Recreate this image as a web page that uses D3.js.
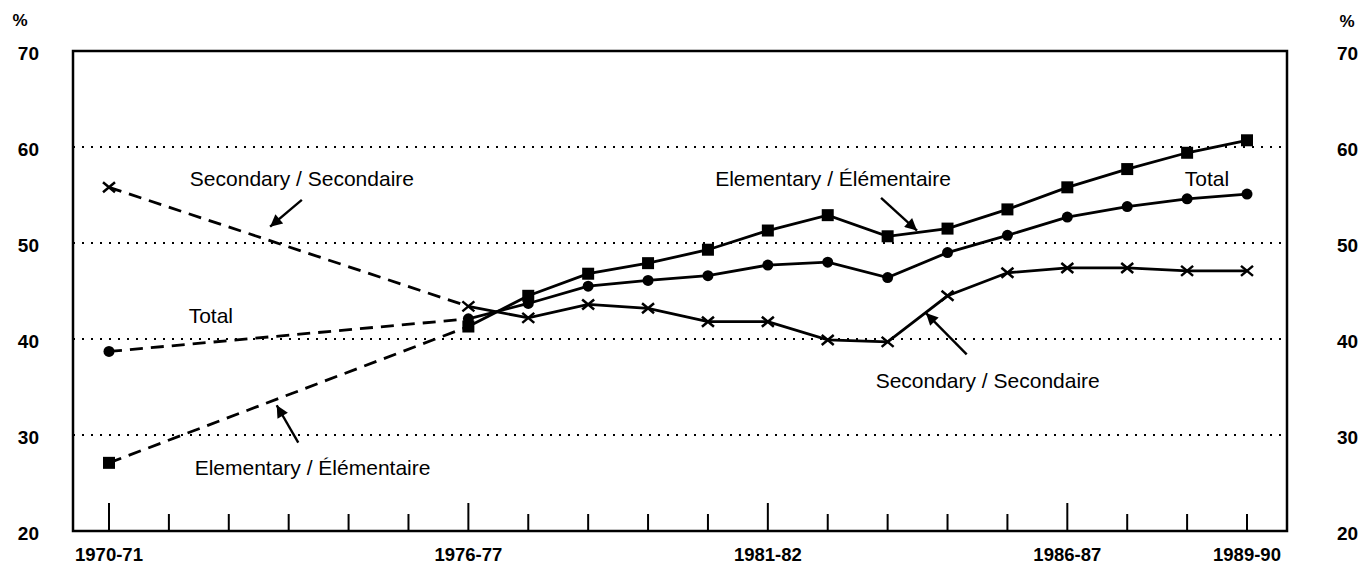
<!DOCTYPE html>
<html>
<head>
<meta charset="utf-8">
<script src="https://cdnjs.cloudflare.com/ajax/libs/d3/7.8.5/d3.min.js"></script>
<style>
  body { margin: 0; background: #fff; }
  svg { display: block; font-family: "Liberation Sans", Arial, sans-serif; }
</style>
</head>
<body>
<svg width="1364" height="569"></svg>
<script>
// school years (start year), first point is 1970-71 then yearly from 1976-77
var years = [1970, 1976, 1977, 1978, 1979, 1980, 1981, 1982, 1983, 1984, 1985, 1986, 1987, 1988, 1989];
var elementary = [27.1, 41.3, 44.5, 46.8, 47.9, 49.3, 51.3, 52.9, 50.7, 51.5, 53.5, 55.8, 57.7, 59.4, 60.7];
var total      = [38.7, 42.1, 43.7, 45.5, 46.1, 46.6, 47.7, 48.0, 46.4, 49.0, 50.8, 52.7, 53.8, 54.6, 55.1];
var secondary  = [55.8, 43.4, 42.2, 43.6, 43.2, 41.8, 41.8, 39.9, 39.7, 44.5, 46.9, 47.4, 47.4, 47.1, 47.1];

var tickYears = d3.range(1970, 1990);
var majorYears = [1970, 1976, 1981, 1986];
var tickLabels = {1970: "1970-71", 1976: "1976-77", 1981: "1981-82", 1986: "1986-87", 1989: "1989-90"};
var yTicks = [20, 30, 40, 50, 60, 70];
var gridValues = [30, 40, 50, 60];

// annotation text, anchored in year / value units
var notes = [
  {text: "Secondary / Secondaire",   yr: 1971.35, v: 55.9},
  {text: "Total",                    yr: 1971.33, v: 41.7},
  {text: "Elementary / Élémentaire", yr: 1971.43, v: 25.8},
  {text: "Elementary / Élémentaire", yr: 1980.12, v: 55.9},
  {text: "Total",                    yr: 1987.96, v: 55.9},
  {text: "Secondary / Secondaire",   yr: 1982.80, v: 34.9}
];
var arrows = [
  {yr0: 1973.22, v0: 54.5, yr1: 1972.69, v1: 51.7},
  {yr0: 1973.16, v0: 29.2, yr1: 1972.80, v1: 33.1},
  {yr0: 1982.89, v0: 54.7, yr1: 1983.49, v1: 51.3},
  {yr0: 1984.32, v0: 38.4, yr1: 1983.64, v1: 42.7}
];

var svg = d3.select("svg");
var plotLeft = 73, plotRight = 1287, plotTop = 51, plotBottom = 531;

var x = d3.scaleLinear().domain([1970, 1989]).range([109, 1247]);
var y = d3.scaleLinear().domain([20, 70]).range([plotBottom, plotTop]);

// arrow head
svg.append("defs").append("marker")
  .attr("id", "head")
  .attr("viewBox", "0 0 10 10")
  .attr("refX", 10).attr("refY", 5)
  .attr("markerWidth", 19).attr("markerHeight", 12)
  .attr("markerUnits", "userSpaceOnUse")
  .attr("orient", "auto")
  .append("path")
  .attr("d", "M0,0 L10,5 L0,10 z")
  .attr("fill", "#000");

// dotted grid
svg.selectAll(".grid").data(gridValues).enter().append("line")
  .attr("class", "grid")
  .attr("x1", plotLeft).attr("x2", plotRight)
  .attr("y1", function(d){ return y(d); })
  .attr("y2", function(d){ return y(d); })
  .attr("stroke", "#000")
  .attr("stroke-width", 2)
  .attr("stroke-dasharray", "2,7");

// frame
svg.append("rect")
  .attr("x", plotLeft).attr("y", plotTop)
  .attr("width", plotRight - plotLeft).attr("height", plotBottom - plotTop)
  .attr("fill", "none")
  .attr("stroke", "#000")
  .attr("stroke-width", 2.5);

// x ticks
svg.selectAll(".xt").data(tickYears).enter().append("line")
  .attr("class", "xt")
  .attr("x1", function(d){ return x(d); })
  .attr("x2", function(d){ return x(d); })
  .attr("y1", plotBottom)
  .attr("y2", function(d){ return majorYears.indexOf(d) >= 0 ? plotBottom - 28 : plotBottom - 17; })
  .attr("stroke", "#000")
  .attr("stroke-width", 2);

svg.selectAll(".xl").data(tickYears.filter(function(d){ return tickLabels[d]; })).enter().append("text")
  .attr("class", "xl")
  .attr("x", function(d){ return x(d); })
  .attr("y", 561)
  .attr("text-anchor", "middle")
  .attr("font-size", 18.5)
  .attr("font-weight", "bold")
  .text(function(d){ return tickLabels[d]; });

// y labels both sides
svg.selectAll(".yl").data(yTicks).enter().append("text")
  .attr("class", "yl")
  .attr("x", 39)
  .attr("y", function(d){ return y(d) + 9; })
  .attr("text-anchor", "end")
  .attr("font-size", 19)
  .attr("font-weight", "bold")
  .text(function(d){ return d; });
svg.selectAll(".yr").data(yTicks).enter().append("text")
  .attr("class", "yr")
  .attr("x", 1337)
  .attr("y", function(d){ return y(d) + 9; })
  .attr("font-size", 19)
  .attr("font-weight", "bold")
  .text(function(d){ return d; });
svg.append("text").attr("x", 20).attr("y", 26).attr("text-anchor", "middle")
  .attr("font-size", 17).attr("font-weight", "bold").text("%");
svg.append("text").attr("x", 1347).attr("y", 27).attr("text-anchor", "middle")
  .attr("font-size", 17).attr("font-weight", "bold").text("%");

// lines: dashed 1970-71 -> 1976-77, solid afterwards
var line = d3.line()
  .x(function(d){ return x(d[0]); })
  .y(function(d){ return y(d[1]); });

function drawSeries(vals, shape) {
  var pts = years.map(function(yr, i){ return [yr, vals[i]]; });
  svg.append("path")
    .datum(pts.slice(0, 2))
    .attr("d", line)
    .attr("fill", "none")
    .attr("stroke", "#000")
    .attr("stroke-width", 2.8)
    .attr("stroke-dasharray", "13,8");
  svg.append("path")
    .datum(pts.slice(1))
    .attr("d", line)
    .attr("fill", "none")
    .attr("stroke", "#000")
    .attr("stroke-width", 2.8);

  var g = svg.append("g");
  pts.forEach(function(p){
    var cx = x(p[0]), cy = y(p[1]);
    if (shape == "square") {
      g.append("rect").attr("x", cx - 6).attr("y", cy - 6)
        .attr("width", 12).attr("height", 12).attr("fill", "#000");
    } else if (shape == "circle") {
      g.append("circle").attr("cx", cx).attr("cy", cy).attr("r", 5.5).attr("fill", "#000");
    } else {
      g.append("path")
        .attr("d", "M" + (cx - 6) + "," + (cy - 5) + "L" + (cx + 6) + "," + (cy + 5) +
                   "M" + (cx - 6) + "," + (cy + 5) + "L" + (cx + 6) + "," + (cy - 5))
        .attr("stroke", "#000").attr("stroke-width", 2.5);
    }
  });
}
drawSeries(secondary, "cross");
drawSeries(total, "circle");
drawSeries(elementary, "square");

// annotations
svg.selectAll(".note").data(notes).enter().append("text")
  .attr("class", "note")
  .attr("x", function(d){ return x(d.yr); })
  .attr("y", function(d){ return y(d.v); })
  .attr("font-size", 21)
  .text(function(d){ return d.text; });

svg.selectAll(".arrow").data(arrows).enter().append("line")
  .attr("class", "arrow")
  .attr("x1", function(d){ return x(d.yr0); })
  .attr("y1", function(d){ return y(d.v0); })
  .attr("x2", function(d){ return x(d.yr1); })
  .attr("y2", function(d){ return y(d.v1); })
  .attr("stroke", "#000")
  .attr("stroke-width", 2.4)
  .attr("marker-end", "url(#head)");
</script>
</body>
</html>
